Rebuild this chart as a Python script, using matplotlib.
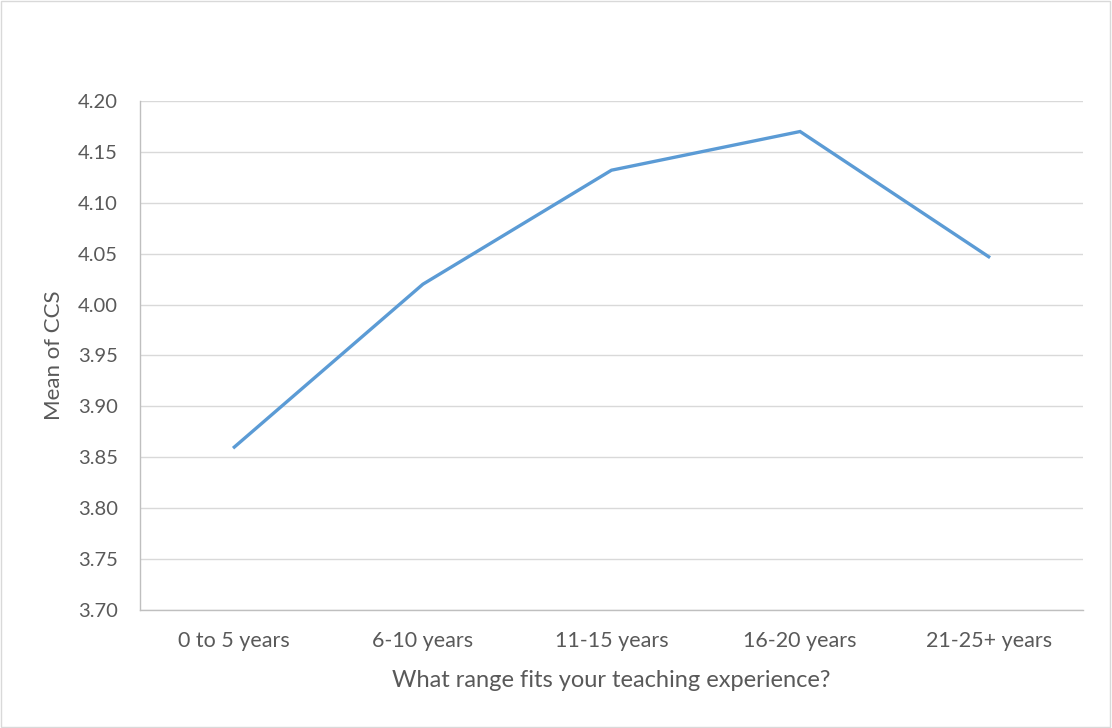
import matplotlib.pyplot as plt
from matplotlib.patches import Rectangle

plt.rcParams['font.family'] = ['Lato', 'DejaVu Sans']

categories = ["0 to 5 years", "6-10 years", "11-15 years", "16-20 years", "21-25+ years"]
mean_ccs = [3.860, 4.020, 4.132, 4.170, 4.047]
y_ticks = [3.70, 3.75, 3.80, 3.85, 3.90, 3.95, 4.00, 4.05, 4.10, 4.15, 4.20]

fig = plt.figure(figsize=(11.12, 7.28), dpi=100)
ax = fig.add_axes([0.1259, 0.1621, 0.848, 0.6992])

x = list(range(len(categories)))
ax.plot(x, mean_ccs, color="#5b9bd5", linewidth=2.4, solid_joinstyle="miter", zorder=3)

ax.set_xlim(-0.5, len(categories) - 0.5)
ax.set_ylim(y_ticks[0], y_ticks[-1])
ax.set_yticks(y_ticks)
ax.set_yticklabels([f"{t:.2f}" for t in y_ticks])
ax.set_xticks(x)
ax.set_xticklabels(categories)

ax.grid(axis="y", color="#d9d9d9", linewidth=1.0)
ax.set_axisbelow(True)
for side in ["top", "right"]:
    ax.spines[side].set_visible(False)
for side in ["left", "bottom"]:
    ax.spines[side].set_color("#bfbfbf")
    ax.spines[side].set_linewidth(1.0)
ax.tick_params(axis="both", length=0, colors="#595959")
ax.tick_params(axis="y", labelsize=14.5, pad=16)
ax.tick_params(axis="x", labelsize=15.5, pad=15)

ax.set_ylabel("Mean of CCS", fontsize=16, color="#595959", labelpad=10)
ax.set_xlabel("What range fits your teaching experience?", fontsize=17, color="#595959", labelpad=14)

# thin frame round the whole chart
fig.patches.append(Rectangle((0.001, 0.001), 0.997, 0.997, transform=fig.transFigure,
                             fill=False, edgecolor="#d9d9d9", linewidth=1.0))

fig.savefig("out.png", dpi=100)
